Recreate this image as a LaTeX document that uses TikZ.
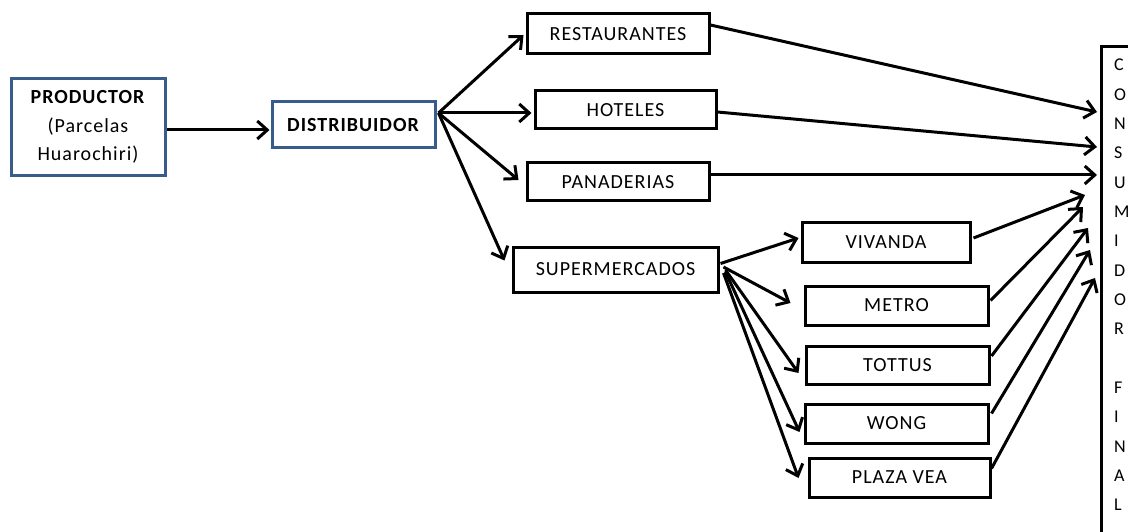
\documentclass[tikz,border=0pt]{standalone}
\usepackage{fontspec}
\setmainfont{Carlito}[LetterSpace=5]
\usetikzlibrary{arrows.meta,calc}
\definecolor{boxblue}{HTML}{385D8A}
\begin{document}
\begin{tikzpicture}[x=1pt,y=-1pt,
  box/.style={draw=black, line width=3pt, fill=white, inner sep=0pt,
    font=\fontsize{20}{24}\selectfont},
  bluebox/.style={draw=boxblue, line width=3pt, fill=white, inner sep=0pt,
    font=\fontsize{20}{28.5}\selectfont, align=center},
  arr/.style={-{Straight Barb[length=10pt,width=18pt]}, line width=3pt}]
\useasboundingbox (0,0) rectangle (1128,532);
% nodes
\node[bluebox, minimum width=154pt, minimum height=97pt] (prod) at (88,127)
  {\textbf{PRODUCTOR}\\(Parcelas\\Huarochiri)};
\node[bluebox, minimum width=163pt, minimum height=46pt] (dist) at (353.5,125)
  {\textbf{DISTRIBUIDOR}};
\node[box, minimum width=182pt, minimum height=40pt] (rest) at (618,34) {RESTAURANTES};
\node[box, minimum width=181pt, minimum height=38pt] (hot) at (625.5,110) {HOTELES};
\node[box, minimum width=182pt, minimum height=38pt] (pan) at (618,182) {PANADERIAS};
\node[box, minimum width=205pt, minimum height=45pt] (sup) at (615.5,269.5) {SUPERMERCADOS};
\node[box, minimum width=168pt, minimum height=40pt] (viv) at (886,242) {VIVANDA};
\node[box, minimum width=183pt, minimum height=39pt] (met) at (896.5,305.5) {METRO};
\node[box, minimum width=183pt, minimum height=38pt] (tot) at (897.5,365) {TOTTUS};
\node[box, minimum width=183pt, minimum height=39pt] (wong) at (896.5,423.5) {WONG};
\node[box, minimum width=181pt, minimum height=39pt] (plaza) at (899.5,477.5) {PLAZA VEA};
\node[draw=black, line width=3pt, fill=white, anchor=north west,
  minimum width=60pt, minimum height=520pt] (cons) at (1100,45) {};
\node[anchor=north west, align=left, inner sep=0pt,
  font=\fontsize{18}{29.33}\selectfont\addfontfeature{LetterSpace=0}] (letters) at (1114,59)
  {C\\O\\N\\S\\U\\M\\I\\D\\O\\R\\~\\F\\I\\N\\A\\L};
% connectors
\draw[arr] ($(prod.east)+(0,3)$) -- ($(dist.west)+(-1,5)$);
\draw[arr] ($(dist.east)+(2,-12)$) -- ($(rest.west)+(-2,1)$);
\draw[arr] ($(dist.east)+(2,-12)$) -- ($(hot.west)+(-2,3)$);
\draw[arr] ($(dist.east)+(2,-12)$) -- ($(pan.west)+(-7,-2)$);
\draw[arr] ($(dist.east)+(2,-12)$) -- ($(sup.west)+(-7,-9)$);
\draw[arr] ($(sup.east)+(1,-6)$) -- ($(viv.west)+(-2,-4)$);
\draw[arr] ($(sup.east)+(4,-2.5)$) -- ($(met.west)+(-13,-2.5)$);
\draw[arr] ($(sup.east)+(6,0.5)$) -- ($(tot.west)+(-6,8)$);
\draw[arr] ($(sup.east)+(6,2.5)$) -- ($(wong.west)+(-4,8.5)$);
\draw[arr] ($(sup.east)+(4,3.5)$) -- ($(plaza.west)+(-9,0.5)$);
\draw[arr] ($(rest.east)+(0,-9)$) -- ($(cons.north west)+(-3,67)$);
\draw[arr] ($(hot.east)+(0,2)$) -- ($(cons.north west)+(-3,102)$);
\draw[arr] ($(pan.east)+(0,-7)$) -- ($(cons.north west)+(-3,130)$);
\draw[arr] ($(viv.east)+(2,-4)$) -- ($(cons.north west)+(-15,150)$);
\draw[arr] ($(met.east)+(1,-5)$) -- ($(cons.north west)+(-17,162)$);
\draw[arr] ($(tot.east)+(1,-9)$) -- ($(cons.north west)+(-12,183)$);
\draw[arr] ($(wong.east)+(2,-10)$) -- ($(cons.north west)+(-10,205)$);
\draw[arr] ($(plaza.east)+(0,-9)$) -- ($(cons.north west)+(-5,233)$);
\end{tikzpicture}
\end{document}
